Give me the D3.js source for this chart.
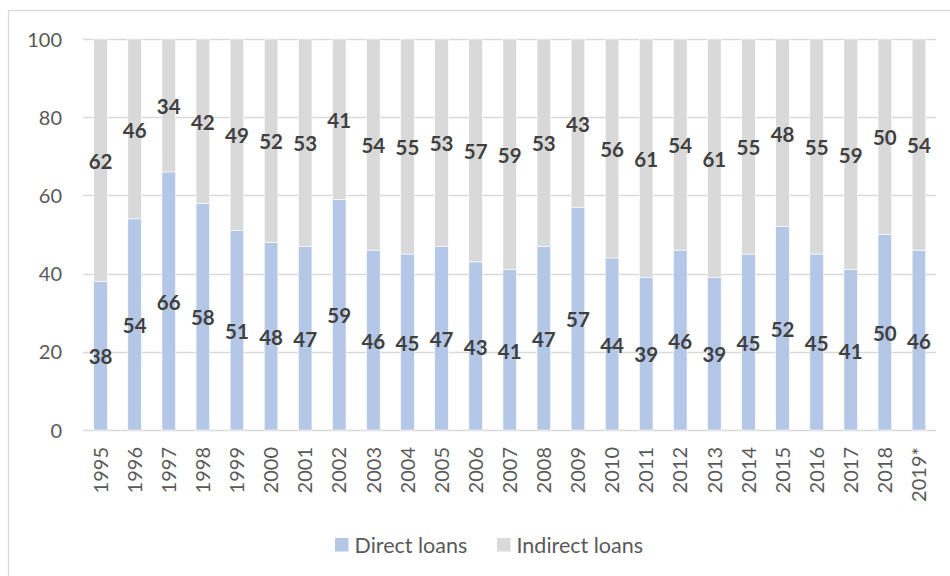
<!DOCTYPE html>
<html>
<head>
<meta charset="utf-8">
<script src="https://cdn.jsdelivr.net/npm/d3@7"></script>
<style>
  html, body { margin: 0; padding: 0; background: #fff; }
  svg { display: block; }
</style>
</head>
<body>
<svg id="chart" width="950" height="576"></svg>
<script>
// Share of direct vs indirect loans by year (percent)
const years = ["1995","1996","1997","1998","1999","2000","2001","2002","2003","2004","2005","2006","2007","2008","2009","2010","2011","2012","2013","2014","2015","2016","2017","2018","2019*"];
const directLoans = [38,54,66,58,51,48,47,59,46,45,47,43,41,47,57,44,39,46,39,45,52,45,41,50,46];
const indirectLoans = [62,46,34,42,49,52,53,41,54,55,53,57,59,53,43,56,61,54,61,55,48,55,59,50,54];
const yTicks = [0,20,40,60,80,100];
const seriesNames = ["Direct loans","Indirect loans"];
const seriesColors = ["#B4C7E7","#D9D9D9"];

const svg = d3.select("#chart");
const font = "Lato, 'Open Sans', sans-serif";

// chart frame
svg.append("rect")
  .attr("x", 8.5).attr("y", 10.5)
  .attr("width", 960).attr("height", 600)
  .attr("fill", "#fff").attr("stroke", "#D9D9D9").attr("stroke-width", 1.3);

const x = d3.scaleBand().domain(years).range([83.5, 936]).paddingInner(0.6).paddingOuter(0.3);
const y = d3.scaleLinear().domain([0, 100]).range([430, 39]);

// gridlines
svg.append("g").selectAll("line").data(yTicks).join("line")
  .attr("x1", 83).attr("x2", 936)
  .attr("y1", d => Math.round(y(d)) + 0.5).attr("y2", d => Math.round(y(d)) + 0.5)
  .attr("stroke", "#D9D9D9").attr("stroke-width", 1.3);

// y axis labels
const yAxis = d3.axisLeft(y).tickValues(yTicks).tickSize(0).tickPadding(0);
const yg = svg.append("g").attr("transform", "translate(62,0)").call(yAxis);
yg.select(".domain").remove();
yg.selectAll("text")
  .attr("font-family", font).attr("font-size", 20).attr("fill", "#595959")
  .attr("dy", "0.35em");

// stacked data
const table = years.map((yr, i) => ({ year: yr, direct: directLoans[i], indirect: indirectLoans[i] }));
const stack = d3.stack().keys(["direct", "indirect"]);
const layers = stack(table);

const barG = svg.append("g");
layers.forEach((layer, li) => {
  barG.append("g").selectAll("rect").data(layer).join("rect")
    .attr("x", d => x(d.data.year))
    .attr("width", x.bandwidth())
    .attr("y", d => y(d[1]))
    .attr("height", d => y(d[0]) - y(d[1]))
    .attr("fill", seriesColors[li])
    .attr("stroke", "#fff").attr("stroke-width", 0.6);
});

// value labels centred in each segment
const labelG = svg.append("g");
layers.forEach(layer => {
  labelG.append("g").selectAll("text").data(layer).join("text")
    .attr("x", d => x(d.data.year) + x.bandwidth() / 2)
    .attr("y", d => y((d[0] + d[1]) / 2) + 1.5)
    .attr("dy", "0.35em")
    .attr("text-anchor", "middle")
    .attr("font-family", font).attr("font-weight", "bold")
    .attr("font-size", 20.5).attr("fill", "#404040")
    .text(d => d[1] - d[0]);
});

// x axis labels (rotated)
const xAxis = d3.axisBottom(x).tickSize(0).tickPadding(0);
const xg = svg.append("g").attr("transform", "translate(0,430)").call(xAxis);
xg.select(".domain").remove();
xg.selectAll("text")
  .attr("font-family", font).attr("font-size", 20).attr("fill", "#595959")
  .attr("transform", "rotate(-90)")
  .attr("text-anchor", "end")
  .attr("x", -17).attr("y", 0).attr("dy", "0.36em");

// legend
const legendX = [335, 497];
const legend = svg.append("g").selectAll("g").data(seriesNames).join("g")
  .attr("transform", (d, i) => `translate(${legendX[i]},538)`);
legend.append("rect").attr("width", 13.5).attr("height", 13.5)
  .attr("fill", (d, i) => seriesColors[i]);
legend.append("text")
  .attr("x", 19.5).attr("y", 14.5)
  .attr("font-family", font).attr("font-size", 21.5).attr("fill", "#595959")
  .text(d => d);
</script>
</body>
</html>
